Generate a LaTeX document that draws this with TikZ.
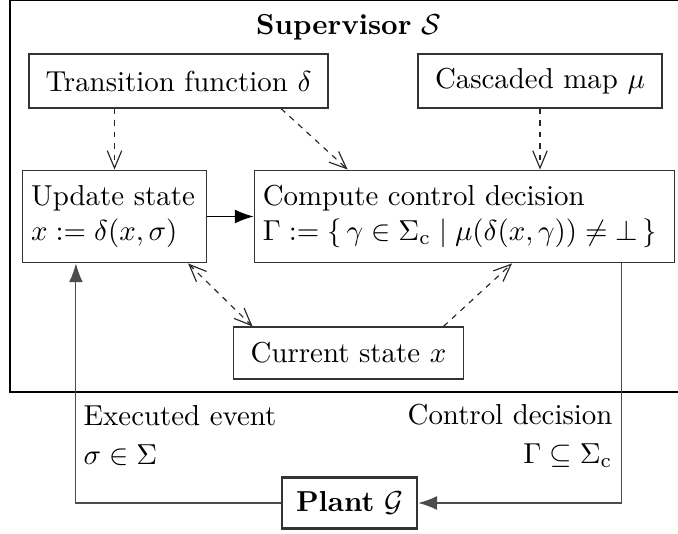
\documentclass[tikz,border=0pt]{standalone}
\usepackage{amsmath,amssymb}
\usepackage{tikz}
\usetikzlibrary{arrows.meta, positioning, calc}

\begin{document}
\begin{tikzpicture}[
    x=0.01217cm, y=-0.01217cm,
    >={Straight Barb[length=6pt, width=5pt]},
    box/.style={draw=black!80, thin, align=center, inner sep=3pt},
    wide/.style={draw=black!80, thin, align=left, inner sep=3pt, minimum height=1.13cm},
    info/.style={thin, dash pattern=on 2pt off 2pt, draw=black!85},
    flow/.style={-{Latex[length=6.5pt, width=4.8pt]}, thin, draw=black!70},
    lbl/.style={inner sep=0pt}
]
    \useasboundingbox (0,0) rectangle (678,534);

    % Supervisor frame
    \draw[line width=1pt] (10,0) rectangle (720,392);
    \node (title) at (348.5,27) {\textbf{Supervisor} $\mathcal{S}$};

    % Supervisor internals
    \node[box, minimum width=3.64cm, minimum height=0.657cm] (trans) at (178.5,81) {Transition function $\delta$};
    \node[box, minimum width=2.97cm, minimum height=0.657cm] (casc) at (540,81) {Cascaded map $\mu$};
    \node[wide, text width=2.03cm] (upd) at (114.5,216.5) {Update state\\$x := \delta(x,\sigma)$};
    \node[wide, text width=4.91cm] (comp) at (464.5,216.5) {Compute control decision\\$\Gamma := \{\, \gamma \in \Sigma_{\mathrm{c}} \mid \mu(\delta(x,\gamma)) \neq \bot \,\}$};
    \node[box, minimum width=2.81cm, minimum height=0.633cm] (cur) at (348.5,353) {Current state $x$};

    % Plant and loop labels
    \node[box, line width=0.9pt, minimum width=1.643cm, minimum height=0.62cm] (plant) at (349.5,503) {\textbf{Plant} $\mathcal{G}$};
    \node[lbl, anchor=west, align=left] (exe) at (83,436) {Executed event\\[1.5pt]$\sigma \in \Sigma$};
    \node[lbl, anchor=east, align=right] (dec) at (613,436) {Control decision\\[1.5pt]$\Gamma \subseteq \Sigma_{\mathrm{c}}$};

    % Connectors
    \draw[info, ->] (upd.north |- trans.south) -- (upd.north);
    \draw[info, ->] ($(trans.south)+(102.5,0)$) -- ($(comp.north west)+(94,0)$);
    \draw[info, ->] (casc.south) -- (casc.south |- comp.north);
    \draw[info, <->] ($(upd.south east)+(-19,0)$) -- ($(cur.north west)+(20,0)$);
    \draw[info, ->] ($(cur.north east)+(-21,0)$) -- ($(comp.south)+(47.5,0)$);

    \draw[-{Latex[length=6.5pt, width=4.8pt]}, thin] (upd) -- (comp);

    \draw[flow] (plant.west) -| ($(upd.south west)+(54,0)$);
    \draw[flow] ($(comp.south west)+(368,0)$) |- (plant.east);
\end{tikzpicture}
\end{document}
